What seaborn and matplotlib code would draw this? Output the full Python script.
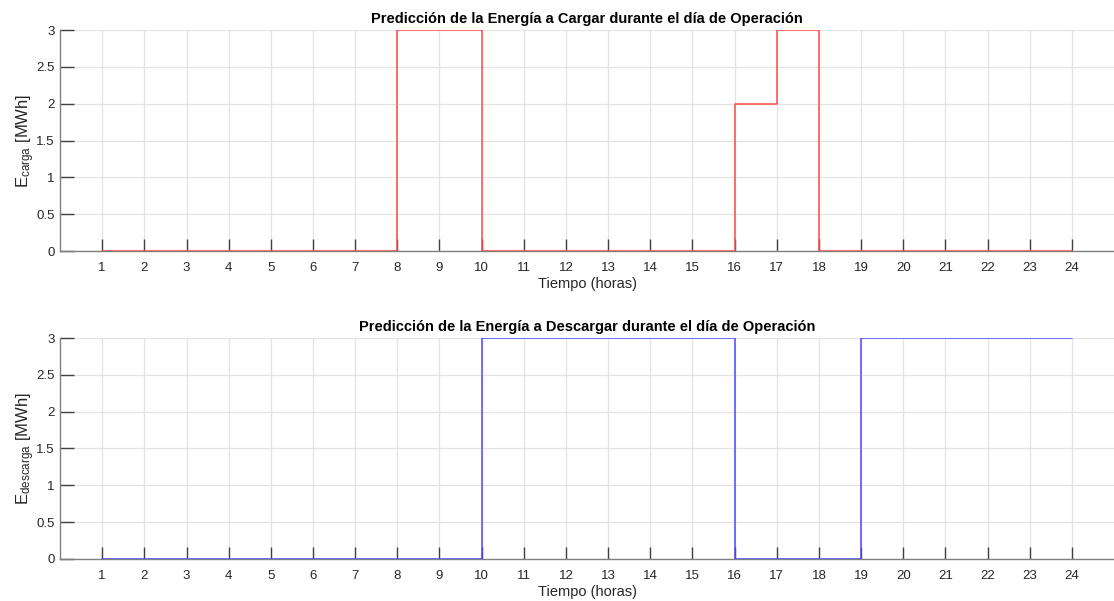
import numpy as np
import pandas as pd
import matplotlib
matplotlib.use("Agg")
import matplotlib.pyplot as plt
import seaborn as sns

horas = list(range(1, 25))
carga = [0, 0, 0, 0, 0, 0, 0, 3, 3, 0, 0, 0, 0, 0, 0, 2, 3, 0, 0, 0, 0, 0, 0, 0]
descarga = [0, 0, 0, 0, 0, 0, 0, 0, 0, 3, 3, 3, 3, 3, 3, 0, 0, 0, 3, 3, 3, 3, 3, 3]
titulos = ["Predicción de la Energía a Cargar durante el día de Operación",
           "Predicción de la Energía a Descargar durante el día de Operación"]
ylabels = [r"E$_{\mathrm{carga}}$ [MWh]", r"E$_{\mathrm{descarga}}$ [MWh]"]
colores = ["#ff4a4a", "#4a4aff"]

sns.set_theme(style="white")
plt.rcParams['font.family'] = ['Liberation Sans', 'DejaVu Sans']
plt.rcParams['mathtext.fontset'] = 'custom'
plt.rcParams['mathtext.rm'] = 'Liberation Sans'
plt.rcParams['mathtext.it'] = 'Liberation Sans'

fig = plt.figure(figsize=(11.14, 6.01), dpi=100)
pos = [[0.0539, 0.582, 0.9461, 0.368], [0.0539, 0.0699, 0.9461, 0.3677]]
for i, vals in enumerate([carga, descarga]):
    ax = fig.add_axes(pos[i])
    ax.set_axisbelow(True)
    df = pd.DataFrame({"h": horas, "v": vals})
    sns.lineplot(data=df, x="h", y="v", ax=ax, color=colores[i], lw=1.1,
                 drawstyle="steps-post", zorder=3)
    ax.set_xlim(0, 25)
    ax.set_ylim(0, 3)
    ax.set_xticks(horas)
    ax.set_xticklabels([str(h) for h in horas])
    ax.set_yticks(np.arange(0, 3.01, 0.5))
    ax.set_yticklabels(["0", "0.5", "1", "1.5", "2", "2.5", "3"])
    ax.grid(True, color="#e3e3e3", lw=0.9)
    for s in ["top", "right"]:
        ax.spines[s].set_visible(False)
    for s in ["left", "bottom"]:
        ax.spines[s].set_color("#808080")
        ax.spines[s].set_linewidth(1.0)
        ax.spines[s].set_zorder(2)
    ax.tick_params(axis="both", direction="in", length=9, width=1.0,
                   bottom=True, left=True,
                   colors="#404040", labelsize=9.5, labelcolor="#262626")
    ax.tick_params(axis="x", pad=8)
    ax.tick_params(axis="y", length=10, pad=4)
    ax.set_title(titulos[i], fontsize=10.5, fontweight="bold", pad=5, color="black")
    ax.set_xlabel("Tiempo (horas)", fontsize=10.5, color="#262626", labelpad=2)
    ax.set_ylabel(ylabels[i], fontsize=12, color="#262626")
    ax.yaxis.set_label_coords(-0.0215, 0.5)

fig.savefig("out.png", dpi=100)
